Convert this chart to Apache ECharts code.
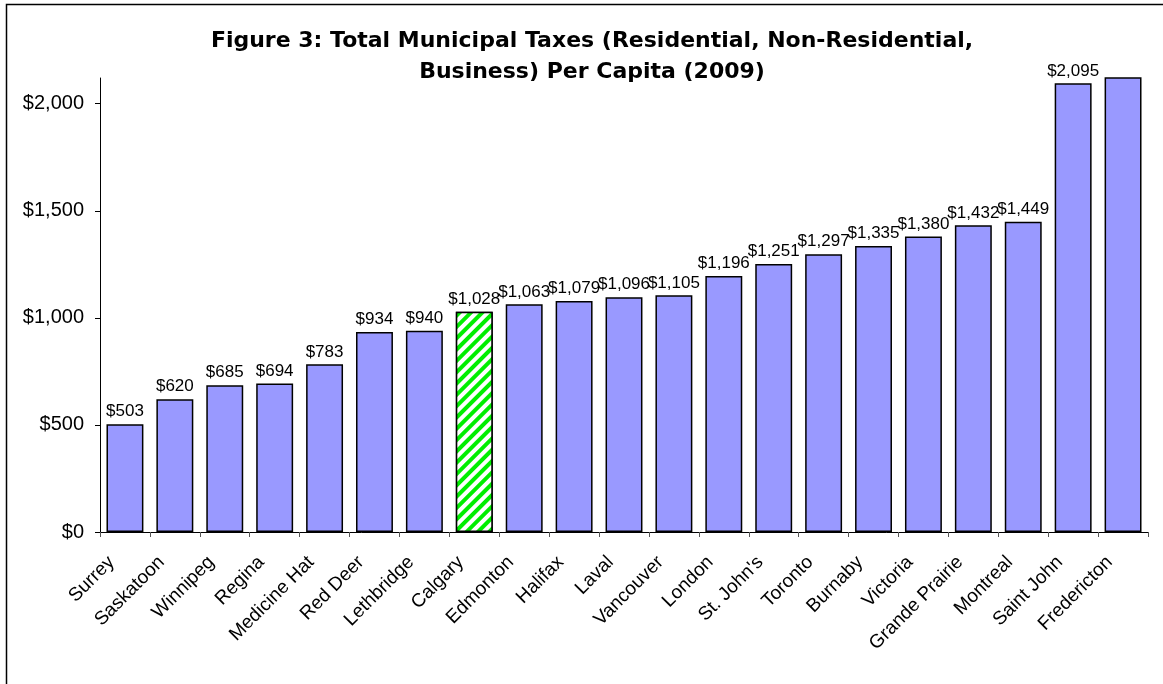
<!DOCTYPE html>
<html>
<head>
<meta charset="utf-8">
<script src="https://cdn.jsdelivr.net/npm/echarts@6/dist/echarts.min.js"></script>
<style>
  html, body { margin: 0; padding: 0; background: #fff; }
  #main { width: 1163px; height: 684px; }
</style>
</head>
<body>
<div id="main"></div>
<script>
// chart data
var cities = ['Surrey', 'Saskatoon', 'Winnipeg', 'Regina', 'Medicine Hat', 'Red Deer', 'Lethbridge',
  'Calgary', 'Edmonton', 'Halifax', 'Laval', 'Vancouver', 'London', "St. John's", 'Toronto',
  'Burnaby', 'Victoria', 'Grande Prairie', 'Montreal', 'Saint John', 'Fredericton'];
var taxPerCapita = [503, 620, 685, 694, 783, 934, 940, 1028, 1063, 1079, 1096, 1105, 1196, 1251,
  1297, 1335, 1380, 1432, 1449, 2095, 2400];
var yTicks = [0, 500, 1000, 1500, 2000];
var highlightCity = 'Calgary';
var offChartCity = 'Fredericton'; // runs off the top of the axis, no label

var FONT = '"Liberation Sans", Arial, sans-serif';

function money(v) {
  return '$' + Math.round(v).toLocaleString('en-US');
}

var chartDom = document.getElementById('main');
var myChart = echarts.init(chartDom);

var barData = cities.map(function (c, i) {
  var item = { value: taxPerCapita[i] };
  if (c === highlightCity) {
    // green hatched bar
    item.itemStyle = {
      color: '#ffffff',
      decal: {
        symbol: 'rect',
        symbolSize: 1,
        color: '#00ee00',
        backgroundColor: '#ffffff',
        dashArrayX: [1, 0],
        dashArrayY: [4, 3.5],
        rotation: -Math.PI / 4
      }
    };
  }
  if (c === offChartCity) {
    item.label = { show: false };
  }
  return item;
});

var option = {
  animation: false,
  backgroundColor: '#ffffff',
  title: {
    text: 'Figure 3: Total Municipal Taxes (Residential, Non-Residential,\nBusiness) Per Capita (2009)',
    left: 587,
    top: 21,
    textAlign: 'center',
    textStyle: {
      fontFamily: '"DejaVu Sans", sans-serif',
      fontSize: 22,
      fontWeight: 'bold',
      color: '#000',
      lineHeight: 31
    }
  },
  graphic: [
    {
      type: 'rect',
      shape: { x: 6.5, y: 4.5, width: 1200, height: 720 },
      style: { fill: 'none', stroke: '#000', lineWidth: 1.5 },
      silent: true
    }
  ],
  grid: {
    left: 100,
    right: 15,
    top: 78,
    bottom: 152
  },
  xAxis: {
    type: 'category',
    data: cities,
    axisLine: { lineStyle: { color: '#000', width: 1 } },
    axisTick: { show: true, alignWithLabel: false, length: 5, lineStyle: { color: '#555' } },
    axisLabel: {
      interval: 0,
      rotate: 45,
      margin: 14,
      padding: [0, 19, 0, 0],
      color: '#000',
      fontFamily: FONT,
      fontSize: 19
    }
  },
  yAxis: {
    type: 'value',
    min: 0,
    max: 2120,
    interval: 500,
    splitLine: { show: false },
    axisLine: { show: true, lineStyle: { color: '#000', width: 1 } },
    axisTick: { show: true, length: 5, customValues: yTicks, lineStyle: { color: '#000' } },
    axisLabel: {
      customValues: yTicks,
      margin: 16,
      color: '#000',
      fontFamily: FONT,
      fontSize: 20,
      formatter: function (v) { return money(v); }
    }
  },
  series: [
    {
      type: 'bar',
      data: barData,
      barCategoryGap: '26%',
      clip: true,
      itemStyle: {
        color: '#9999ff',
        borderColor: '#000',
        borderWidth: 1.5
      },
      label: {
        show: true,
        position: 'top',
        distance: 4,
        color: '#000',
        fontFamily: FONT,
        fontSize: 17,
        formatter: function (p) { return money(p.value); }
      }
    }
  ]
};

option && myChart.setOption(option);
</script>
</body>
</html>
